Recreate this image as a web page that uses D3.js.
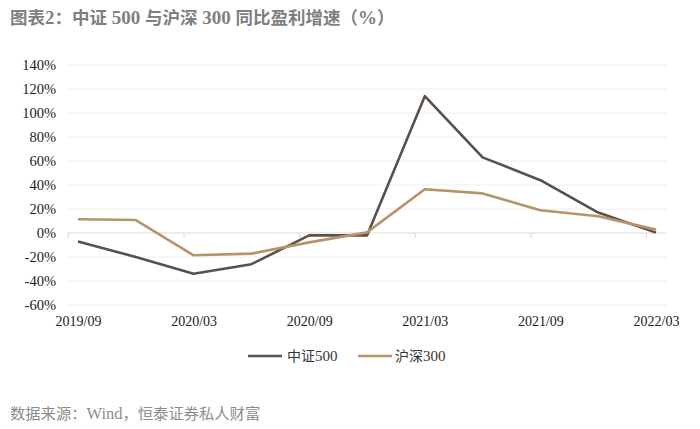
<!DOCTYPE html>
<html><head><meta charset="utf-8">
<script src="https://cdn.jsdelivr.net/npm/d3@7"></script>
<style>body{margin:0;background:#fff}svg{display:block}</style>
</head><body>
<svg id="c" width="700" height="429"></svg>
<script>
const quarters = ["2019/09","2019/12","2020/03","2020/06","2020/09","2020/12","2021/03","2021/06","2021/09","2021/12","2022/03"];
const csi500 = [-7, -20, -34, -26, -2, -2, 114, 63, 44, 17, 0.3];
const hs300 = [11.4, 10.8, -18.6, -17.2, -7.8, 0.5, 36.4, 33, 19, 14, 2.8];
const xTickLabels = ["2019/09","2020/03","2020/09","2021/03","2021/09","2022/03"];
const yTicks = [-60,-40,-20,0,20,40,60,80,100,120,140];
const seriesNames = ["中证500","沪深300"];
const colors = ["#5b5047","#b59469"];

const svg = d3.select("#c");
const serif = "'Liberation Serif','Times New Roman',serif";
const cjk = "'Noto Sans CJK SC',sans-serif";

const x = d3.scalePoint().domain(quarters).range([78, 656]);
const y = d3.scaleLinear().domain([-60, 140]).range([305, 65]);
const plotL = 67, plotR = 667;

// grid
svg.append("g").selectAll("line").data(yTicks.filter(d=>d!==0)).join("line")
  .attr("x1", plotL).attr("x2", plotR)
  .attr("y1", d=>y(d)).attr("y2", d=>y(d))
  .attr("stroke", "#eeeeee").attr("stroke-width", 1);

// y labels
const yAxis = d3.axisLeft(y).tickValues(yTicks).tickFormat(d=>d+"%").tickSize(0).tickPadding(0);
const ya = svg.append("g").attr("transform", "translate(56,0)").call(yAxis);
ya.select(".domain").remove();
ya.selectAll("text").attr("font-family", serif).attr("font-size", 14.5).attr("fill", "#222");

// zero axis line
svg.append("line").attr("x1", plotL).attr("x2", plotR).attr("y1", y(0)).attr("y2", y(0))
  .attr("stroke", "#d9d9d9").attr("stroke-width", 1);
// small ticks
svg.append("g").selectAll("line").data(xTickLabels).join("line")
  .attr("x1", d=>x(d)-9.5).attr("x2", d=>x(d)-9.5)
  .attr("y1", y(0)).attr("y2", y(0)+5)
  .attr("stroke", "#d9d9d9");

// x labels
const xAxis = d3.axisBottom(x).tickValues(xTickLabels).tickSize(0).tickPadding(0);
const xa = svg.append("g").attr("transform", "translate(0,316)").call(xAxis);
xa.select(".domain").remove();
xa.selectAll("text").attr("font-family", serif).attr("font-size", 14).attr("fill", "#222");

// lines
const line = d3.line().x((d,i)=>x(quarters[i])).y(d=>y(d));
[csi500, hs300].forEach((s,k)=>{
  svg.append("path").datum(s).attr("d", line).attr("fill","none")
    .attr("stroke", colors[k]).attr("stroke-width", 2.6).attr("stroke-linejoin","round");
});

// legend
const lg = [{x:248,tx:287},{x:358,tx:395}];
seriesNames.forEach((n,k)=>{
  svg.append("line").attr("x1", lg[k].x).attr("x2", lg[k].x+34).attr("y1",356).attr("y2",356)
    .attr("stroke", colors[k]).attr("stroke-width", 2.6);
  const t = svg.append("text").attr("x", lg[k].tx).attr("y", 361).attr("font-size", 14).attr("fill","#333");
  const m = n.match(/^(\D+)(\d+)$/);
  t.append("tspan").attr("font-family", cjk).attr("font-size", 14).text(m[1]);
  t.append("tspan").attr("font-family", serif).attr("font-size", 15).text(m[2]);
});

// title
const title = svg.append("text").attr("x", 10).attr("y", 24).attr("fill", "#7f7f7f").attr("font-weight","bold").attr("font-size", 17.5);
[["图表",cjk],["2",serif],["：中证",cjk],[" 500 ",serif],["与沪深",cjk],[" 300 ",serif],["同比盈利增速（",cjk],["%",serif],["）",cjk]]
  .forEach(([s,f])=>title.append("tspan").attr("font-family", f).attr("font-size", f===serif?19:17.5).text(s));

// source
const src = svg.append("text").attr("x", 10).attr("y", 419).attr("fill", "#8c8c8c").attr("font-size", 15.3);
[["数据来源：",cjk],["Wind",serif],["，恒泰证券私人财富",cjk]].forEach(([s,f])=>src.append("tspan").attr("font-family", f).attr("font-size", f===serif?16.5:15.3).text(s));
</script>
</body></html>
